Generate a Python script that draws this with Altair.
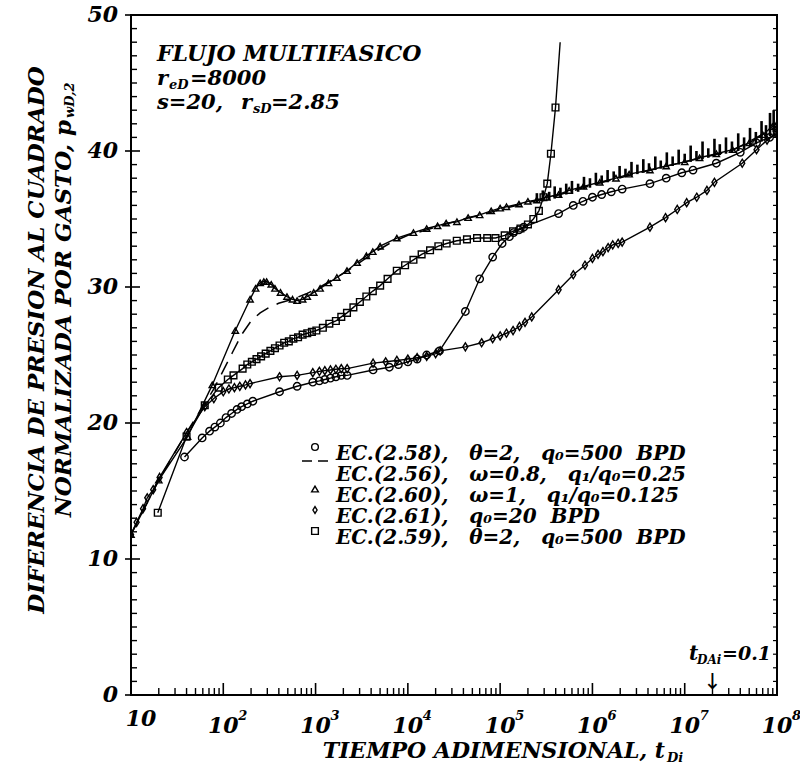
import altair as alt
import pandas as pd

W, H = 646, 680
FONT = "DejaVu Serif"

# ---------------- data (t_Di , p_wD,2) ----------------
circ_t = [38, 59, 71, 81, 93, 107, 123, 141, 158, 182, 209, 407, 631, 933, 1100, 1260, 1450,
          1660, 1900, 2200, 4200, 6300, 7900, 1.0e4, 1.26e4, 1.6e4, 2.2e4, 4.2e4, 6.0e4, 8.3e4,
          1.05e5, 1.26e5, 1.4e5, 1.6e5, 1.8e5, 4.3e5, 6.2e5, 7.9e5, 1.0e6, 1.26e6, 1.6e6, 2.1e6,
          4.2e6, 6.3e6, 9.3e6, 1.23e7, 2.2e7, 4.0e7, 6.0e7, 8.3e7, 1.0e8]
circ_p = [17.5, 18.9, 19.4, 19.7, 20.0, 20.4, 20.7, 21.0, 21.2, 21.4, 21.6, 22.3, 22.7, 23.0, 23.1,
          23.2, 23.3, 23.4, 23.5, 23.5, 23.9, 24.1, 24.3, 24.5, 24.7, 25.0, 25.3, 28.2, 30.6, 32.2,
          33.2, 33.7, 34.0, 34.2, 34.4, 35.4, 36.0, 36.3, 36.6, 36.8, 37.0, 37.2, 37.6, 38.0, 38.4,
          38.6, 39.1, 39.9, 40.6, 41.0, 41.3]

diam_t = [10, 11.5, 13.5, 15, 17.4, 20.4, 40, 63, 79, 100, 115, 132, 151, 174, 195, 407, 631, 933,
          1100, 1260, 1450, 1660, 1900, 2200, 4200, 5750, 7600, 1.0e4, 1.26e4, 1.6e4, 2.0e4, 2.24e4,
          4.2e4, 6.3e4, 8.3e4, 1.0e5, 1.17e5, 1.38e5, 1.62e5, 1.86e5, 2.2e5, 4.3e5, 6.2e5, 8.3e5,
          1.0e6, 1.15e6, 1.3e6, 1.48e6, 1.66e6, 1.9e6, 2.1e6, 4.2e6, 6.2e6, 8.3e6, 1.05e7, 1.35e7,
          1.74e7, 2.1e7, 4.2e7, 6.0e7, 7.8e7, 1.0e8]
diam_p = [11.8, 12.7, 13.7, 14.5, 15.1, 16.0, 19.3, 21.2, 21.8, 22.3, 22.5, 22.6, 22.7, 22.8, 22.9,
          23.4, 23.5, 23.7, 23.8, 23.85, 23.9, 23.95, 24.0, 24.0, 24.4, 24.5, 24.6, 24.7, 24.8, 24.9,
          25.1, 25.3, 25.6, 25.9, 26.2, 26.4, 26.6, 26.8, 27.1, 27.4, 27.8, 29.8, 30.9, 31.6, 32.1,
          32.4, 32.6, 32.9, 33.1, 33.2, 33.3, 34.4, 35.1, 35.7, 36.2, 36.6, 37.1, 37.7, 39.1, 40.1,
          40.8, 41.3]

tri_t = [10, 20, 41, 76, 135, 195, 224, 251, 275, 295, 331, 363, 417, 490, 562, 631, 724, 813, 955,
         1120, 1380, 1700, 2190, 2820, 3550, 4170, 5000, 7600, 1.15e4, 1.6e4, 2.1e4, 2.6e4, 3.4e4,
         4.5e4, 6.0e4, 8.0e4, 1.0e5, 1.17e5, 1.6e5, 2.0e5, 2.5e5, 3.2e5, 4.3e5, 5.6e5, 8.0e5,
         1.2e6, 1.8e6, 2.5e6, 4.2e6, 6.3e6, 1.0e7, 1.45e7, 2.2e7, 3.3e7, 5.0e7, 7.0e7, 8.9e7, 1.0e8]
tri_p = [11.8, 15.8, 19.0, 22.8, 26.8, 29.1, 29.9, 30.3, 30.4, 30.4, 30.2, 29.9, 29.6, 29.3, 29.1,
         29.0, 29.1, 29.3, 29.6, 29.9, 30.3, 30.7, 31.2, 31.8, 32.3, 32.6, 33.0, 33.6, 34.0, 34.3,
         34.5, 34.7, 34.8, 35.1, 35.3, 35.6, 35.8, 35.9, 36.1, 36.3, 36.4, 36.6, 36.8, 37.1, 37.4,
         37.7, 38.0, 38.3, 38.6, 38.9, 39.2, 39.5, 39.8, 40.1, 40.6, 41.2, 41.8, 42.0]

dash_t = [10, 20, 40, 79, 126, 158, 200, 251, 316, 398, 562, 794, 1120, 1580, 2240, 3160, 4470,
          6310, 1.0e4, 1.6e4, 2.5e4, 4.0e4, 6.3e4, 1.0e5, 2.0e5, 4.0e5, 1.0e6, 3.2e6, 1.0e7,
          3.2e7, 1.0e8]
dash_p = [11.8, 15.8, 19.3, 22.5, 25.2, 26.5, 27.5, 28.1, 28.5, 28.8, 29.1, 29.5, 30.0, 30.6,
          31.2, 31.9, 32.6, 33.2, 33.8, 34.2, 34.6, 35.0, 35.3, 35.7, 36.2, 36.7, 37.5, 38.4,
          39.2, 40.0, 41.8]

sq_t = [19.5, 40, 63, 89, 112, 129, 162, 182, 204, 229, 257, 288, 324, 363, 407, 457, 513, 575,
        646, 724, 813, 912, 1020, 1200, 1410, 1660, 1900, 2190, 2570, 3020, 3550, 4170, 5010,
        6030, 7590, 9330, 1.15e4, 1.41e4, 1.74e4, 2.14e4, 2.63e4, 3.39e4, 4.37e4, 5.62e4, 7.24e4,
        8.9e4, 1.12e5, 1.38e5, 1.66e5, 2.0e5, 2.29e5, 2.63e5, 2.95e5, 3.24e5, 3.55e5, 3.98e5]
sq_p = [13.4, 19.0, 21.3, 22.6, 23.2, 23.5, 24.0, 24.3, 24.5, 24.7, 24.9, 25.1, 25.3, 25.5, 25.7,
        25.9, 26.0, 26.2, 26.3, 26.5, 26.6, 26.7, 26.8, 27.0, 27.3, 27.5, 27.8, 28.1, 28.5, 28.9,
        29.3, 29.7, 30.1, 30.6, 31.2, 31.6, 32.0, 32.4, 32.7, 33.0, 33.2, 33.4, 33.5, 33.6, 33.6,
        33.6, 33.8, 34.1, 34.3, 34.6, 35.0, 35.6, 36.6, 37.6, 39.8, 43.2]
sq_end_t = [4.47e5]
sq_end_p = [48.0]

# numerical noise band on the late-time curves
noise_t = [2.5e5, 2.9e5, 3.4e5, 3.9e5, 4.5e5, 5.2e5, 6.0e5, 7.0e5, 8.1e5, 9.4e5, 1.09e6, 1.26e6,
           1.46e6, 1.7e6, 1.97e6, 2.28e6, 2.65e6, 3.07e6, 3.56e6, 4.1e6, 4.8e6, 5.5e6, 6.4e6, 7.4e6,
           8.6e6, 1.0e7, 1.16e7, 1.34e7, 1.56e7, 1.8e7, 2.1e7, 2.4e7, 2.8e7, 3.25e7, 3.8e7, 4.4e7,
           5.1e7, 5.9e7, 6.8e7, 7.6e7, 8.4e7, 9.2e7]
noise_lo = [36.2, 36.3, 36.4, 36.5, 36.6, 36.8, 36.9, 37.0, 37.2, 37.3, 37.5, 37.6, 37.7, 37.9,
            38.0, 38.1, 38.2, 38.3, 38.4, 38.5, 38.6, 38.7, 38.8, 38.9, 39.0, 39.1, 39.2, 39.3,
            39.4, 39.5, 39.6, 39.7, 39.8, 39.9, 40.0, 40.1, 40.3, 40.5, 40.7, 40.9, 41.1, 41.4]
noise_hi = [36.9, 37.1, 37.0, 37.4, 37.3, 37.6, 37.8, 37.6, 38.1, 38.0, 38.4, 38.2, 38.6, 38.5,
            38.9, 38.7, 39.2, 39.0, 39.4, 39.1, 39.6, 39.3, 39.9, 39.6, 40.1, 39.8, 40.4, 40.0,
            40.7, 40.2, 40.9, 40.5, 41.0, 40.7, 41.3, 41.0, 41.7, 41.4, 42.2, 41.9, 42.8, 43.0]

x_major = [10, 1e2, 1e3, 1e4, 1e5, 1e6, 1e7, 1e8]
x_sup = ["", "2", "3", "4", "5", "6", "7", "8"]
y_major = [0, 10, 20, 30, 40, 50]

NB = "\u00a0"
legend_labels = [
    f"EC.(2.58),{NB}{NB} θ=2,{NB}{NB} q₀=500{NB} BPD",
    f"EC.(2.56),{NB}{NB} ω=0.8,{NB}{NB} q₁/q₀=0.25",
    f"EC.(2.60),{NB}{NB} ω=1,{NB}{NB} q₁/q₀=0.125",
    f"EC.(2.61),{NB}{NB} q₀=20{NB} BPD",
    f"EC.(2.59),{NB}{NB} θ=2,{NB}{NB} q₀=500{NB} BPD",
]
DIAMOND = "M0,-1L0.62,0L0,1L-0.62,0Z"
legend_shapes = ["circle", "", "triangle-up", DIAMOND, "square"]

# ---------------- helpers ----------------
xs = alt.Scale(type="log", domain=[10, 1e8], nice=False)
ys = alt.Scale(domain=[0, 50], nice=False)
X = alt.X("t:Q", scale=xs, axis=None)
Y = alt.Y("p:Q", scale=ys, axis=None)

def df(t, p):
    return pd.DataFrame({"t": t, "p": p})

def line(d, dash=None, w=1.4):
    kw = dict(color="black", strokeWidth=w, clip=True)
    if dash:
        kw["strokeDash"] = dash
    return alt.Chart(d).mark_line(**kw).encode(x=X, y=Y)

def pts(d, shape, size):
    return alt.Chart(d).mark_point(shape=shape, filled=False, color="black", size=size,
                                   strokeWidth=1.4, opacity=1, clip=True).encode(x=X, y=Y)

def txt(s, x, y, size=21, align="left", angle=0, baseline="alphabetic"):
    return alt.Chart(pd.DataFrame({"s": [s]})).mark_text(
        font=FONT, fontStyle="italic", fontWeight="bold", fontSize=size, align=align,
        baseline=baseline, angle=angle, color="black").encode(
        x=alt.value(x), y=alt.value(y), text="s:N")

layers = []

# ticks
minor_x = [m * 10 ** k for k in range(1, 8) for m in range(2, 10)]
layers.append(alt.Chart(pd.DataFrame({"t": x_major})).mark_rule(color="black", strokeWidth=1.6)
              .encode(x=X, y=alt.value(H), y2=alt.value(H - 12)))
layers.append(alt.Chart(pd.DataFrame({"t": minor_x})).mark_rule(color="black", strokeWidth=1.4)
              .encode(x=X, y=alt.value(H), y2=alt.value(H - 7)))
minor_y = [v for v in range(1, 50) if v % 10]
layers.append(alt.Chart(pd.DataFrame({"p": y_major})).mark_rule(color="black", strokeWidth=1.6)
              .encode(y=Y, x=alt.value(-6), x2=alt.value(9)))
layers.append(alt.Chart(pd.DataFrame({"p": minor_y})).mark_rule(color="black", strokeWidth=1.4)
              .encode(y=Y, x=alt.value(0), x2=alt.value(6)))
layers.append(alt.Chart(pd.DataFrame({"p": minor_y + y_major})).mark_rule(color="black", strokeWidth=1.2)
              .encode(y=Y, x=alt.value(W), x2=alt.value(W - 4)))

# tick labels
layers.append(alt.Chart(pd.DataFrame({"t": x_major[1:], "s": ["10"] * 7})).mark_text(
    font=FONT, fontStyle="italic", fontWeight="bold", fontSize=22, align="center", color="black")
    .encode(x=X, y=alt.value(H + 31), text="s:N"))
layers.append(txt("10", 10, H + 31, size=22, align="center"))
layers.append(alt.Chart(pd.DataFrame({"t": x_major[1:], "s": x_sup[1:]})).mark_text(
    font=FONT, fontStyle="italic", fontWeight="bold", fontSize=13, align="left", dx=15, color="black")
    .encode(x=X, y=alt.value(H + 21), text="s:N"))
layers.append(alt.Chart(pd.DataFrame({"p": y_major, "s": [str(v) for v in y_major]})).mark_text(
    font=FONT, fontStyle="italic", fontWeight="bold", fontSize=22, align="right", baseline="middle",
    color="black", dx=-13).encode(x=alt.value(0), y=Y, text="s:N"))

# noise band
layers.append(alt.Chart(pd.DataFrame({"t": noise_t, "p": noise_lo, "p2": noise_hi}))
              .mark_rule(color="black", strokeWidth=2.6).encode(x=X, y=Y, y2="p2:Q"))

# curves
layers += [
    line(df(dash_t, dash_p), dash=[14, 9], w=1.5),
    line(df(tri_t, tri_p)), pts(df(tri_t, tri_p), "triangle-up", 40),
    line(df(circ_t, circ_p)), pts(df(circ_t, circ_p), "circle", 55),
    line(df(diam_t, diam_p)), pts(df(diam_t, diam_p), DIAMOND, 65),
    line(df(sq_t + sq_end_t, sq_p + sq_end_p)), pts(df(sq_t, sq_p), "square", 45),
]

# annotations
layers += [
    txt("FLUJO MULTIFASICO", 26, 46, size=22),
    txt("r", 26, 70), txt("eD", 38, 74, size=13), txt("=8000", 59, 70),
    txt("s=20,", 26, 94), txt("r", 110, 94), txt("sD", 122, 98, size=13), txt("=2.85", 140, 94),
]

# legend
leg_y = [439, 460, 481, 502, 523]
leg = pd.DataFrame({"s": legend_labels, "py": leg_y, "shape": legend_shapes})
layers.append(alt.Chart(leg).mark_text(font=FONT, fontStyle="italic", fontWeight="bold",
                                       fontSize=20, align="left", color="black")
              .encode(x=alt.value(205), y=alt.Y("py:Q", scale=None), text="s:N"))
layers.append(alt.Chart(leg[leg["shape"] != ""]).mark_point(filled=False, color="black", size=45,
                                                            strokeWidth=1.4, opacity=1)
              .encode(x=alt.value(184), y=alt.Y("py:Q", scale=None), shape=alt.Shape("shape:N", scale=None))
              .transform_calculate(py="datum.py - 7"))
layers.append(alt.Chart(pd.DataFrame({"a": [1]})).mark_rule(color="black", strokeWidth=1.5,
                                                             strokeDash=[10, 6])
              .encode(x=alt.value(171), x2=alt.value(197), y=alt.value(leg_y[1] - 14)))

# t_DAi annotation and arrow
layers += [txt("t", 558, 645, size=20), txt("DAi", 566, 649, size=12), txt("=0.1", 591, 645, size=19)]
layers.append(alt.Chart(pd.DataFrame({"t": [2e7], "s": ["↓"]})).mark_text(
    font="DejaVu Sans", fontSize=22, align="center", baseline="middle", color="black")
    .encode(x=X, y=alt.value(H - 13), text="s:N"))

# axis titles
layers += [txt("TIEMPO ADIMENSIONAL, t", 534, H + 63, size=22, align="right"),
           txt("Di", 536, H + 67, size=13)]
layers += [txt("DIFERENCIA DE PRESION AL CUADRADO", -94, 325, size=23, angle=270,
               align="center", baseline="middle"),
           txt("NORMALIZADA POR GASTO, p", -67, 105, size=23, angle=270, align="right", baseline="middle"),
           txt("wD,2", -61, 103, size=13, angle=270, align="left", baseline="middle")]

chart = alt.layer(*layers).properties(
    width=W, height=H, autosize="none",
    padding={"left": 131, "top": 15, "right": 23, "bottom": 72},
    background="white",
).configure_view(stroke="black", strokeWidth=2)

chart.save("out.html", embed_options={"renderer": "svg", "actions": False})
